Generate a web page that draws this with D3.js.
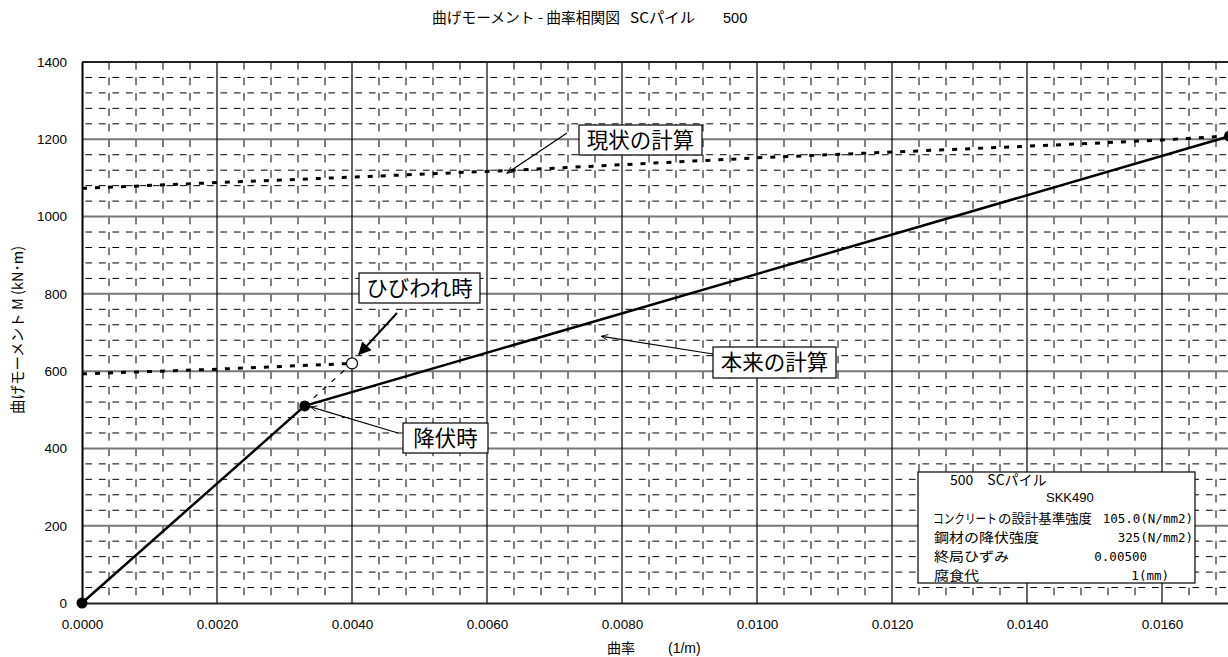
<!DOCTYPE html>
<html>
<head>
<meta charset="utf-8">
<script src="https://cdn.jsdelivr.net/npm/d3@7/dist/d3.min.js"></script>
<style>
  html, body { margin: 0; padding: 0; background: #fff; }
  svg { display: block; }
  text { font-family: "Liberation Sans", Arial, "Noto Sans CJK JP", sans-serif; fill: #000; }
  .jp { font-family: "Noto Sans CJK JP", "Liberation Sans", sans-serif; }
  .mono { font-family: "DejaVu Sans Mono", "Liberation Mono", monospace; }
</style>
</head>
<body>
<svg id="chart" width="1228" height="657"></svg>
<script>
// Axis ticks
const curvatureTicks = [0, 0.002, 0.004, 0.006, 0.008, 0.010, 0.012, 0.014, 0.016];
const momentTicks = [0, 200, 400, 600, 800, 1000, 1200, 1400];

// 本来の計算 (solid)
const designCurvature = [0, 0.0033, 0.0170];
const designMoment = [0, 510, 1208];

// 現状の計算 (dotted, upper branch)
const currentCurvature = [0, 0.002, 0.004, 0.0064, 0.010, 0.014, 0.016, 0.017];
const currentMoment = [1073, 1088, 1102, 1120, 1152, 1182, 1198, 1209];

// dotted branch up to cracking
const crackBranchCurvature = [0, 0.002, 0.0040];
const crackBranchMoment = [593, 605, 620];

// thin dashed link yield -> cracking
const linkCurvature = [0.0033, 0.0040];
const linkMoment = [510, 620];

// key points
const originPoint = [0, 0];
const yieldPoint = [0.0033, 510];
const crackPoint = [0.0040, 620];
const ultimatePoint = [0.0170, 1208];

// info box lines
const infoHead = "500　SCパイル";
const infoSteel = "SKK490";
const infoConcrete = "コンクリート";
const infoLabels = ["の設計基準強度", "鋼材の降伏強度", "終局ひずみ", "腐食代"];
const infoValues = ["105.0(N/mm2)", "325(N/mm2)", "0.00500", "1(mm)"];

const svg = d3.select("#chart");
const plotLeft = 82, plotRight = 1229.5, plotTop = 62, plotBottom = 603;

const x = d3.scaleLinear().domain([0, 0.017]).range([plotLeft, plotRight]);
const y = d3.scaleLinear().domain([0, 1400]).range([plotBottom, plotTop]);

// minor grid (dashed)
const minorX = d3.range(0, 0.0171, 0.0004).filter(v => Math.abs(v / 0.002 - Math.round(v / 0.002)) > 1e-6);
const minorY = d3.range(0, 1401, 40).filter(v => v % 200 !== 0);
const sx = x(0.0004) - x(0), sy = y(0) - y(40);

const grid = svg.append("g");
grid.selectAll(".hminor").data(minorY).join("line")
  .attr("x1", plotLeft).attr("x2", plotRight)
  .attr("y1", d => y(d)).attr("y2", d => y(d))
  .attr("stroke", "#000").attr("stroke-width", 1)
  .attr("stroke-dasharray", `${sx / 4} ${sx / 4}`)
  .attr("stroke-dashoffset", -sx / 8);
grid.selectAll(".vminor").data(minorX).join("line")
  .attr("x1", d => x(d)).attr("x2", d => x(d))
  .attr("y1", plotTop).attr("y2", plotBottom)
  .attr("stroke", "#000").attr("stroke-width", 1)
  .attr("stroke-dasharray", `${sy / 2} ${sy / 2}`);

// major grid
grid.selectAll(".hmajor").data(momentTicks.filter(d => d > 0 && d < 1400)).join("line")
  .attr("x1", plotLeft).attr("x2", plotRight)
  .attr("y1", d => y(d)).attr("y2", d => y(d))
  .attr("stroke", "#777").attr("stroke-width", 2);
grid.selectAll(".vmajor").data(curvatureTicks.filter(d => d > 0)).join("line")
  .attr("x1", d => x(d)).attr("x2", d => x(d))
  .attr("y1", plotTop).attr("y2", plotBottom)
  .attr("stroke", "#000").attr("stroke-width", 1.2);

// top frame
svg.append("line").attr("x1", plotLeft).attr("x2", plotRight).attr("y1", plotTop).attr("y2", plotTop)
  .attr("stroke", "#222").attr("stroke-width", 2);

// axes
const xAxis = d3.axisBottom(x).tickValues(curvatureTicks).tickFormat(d3.format(".4f")).tickSize(0).tickPadding(16);
const yAxis = d3.axisLeft(y).tickValues(momentTicks).tickFormat(d3.format("d")).tickSize(0).tickPadding(15);

const gx = svg.append("g").attr("transform", `translate(0,${plotBottom})`).call(xAxis);
gx.select(".domain").attr("stroke", "#222").attr("stroke-width", 2);
gx.selectAll("text").style("font-size", "13.5px").style("font-family", '"Liberation Sans", Arial, sans-serif');

const gy = svg.append("g").attr("transform", `translate(${plotLeft},0)`).call(yAxis);
gy.select(".domain").attr("stroke", "#000").attr("stroke-width", 2);
gy.selectAll("text").style("font-size", "13.5px").style("font-family", '"Liberation Sans", Arial, sans-serif');

// series
const line = d3.line().x(d => x(d[0])).y(d => y(d[1]));
const zipPts = (a, b) => a.map((v, i) => [v, b[i]]);

svg.append("path").datum(zipPts(currentCurvature, currentMoment))
  .attr("d", line).attr("fill", "none").attr("stroke", "#000")
  .attr("stroke-width", 3).attr("stroke-dasharray", "5 8");
svg.append("path").datum(zipPts(crackBranchCurvature, crackBranchMoment))
  .attr("d", line).attr("fill", "none").attr("stroke", "#000")
  .attr("stroke-width", 3).attr("stroke-dasharray", "5 8");
svg.append("path").datum(zipPts(linkCurvature, linkMoment))
  .attr("d", line).attr("fill", "none").attr("stroke", "#000")
  .attr("stroke-width", 1.2).attr("stroke-dasharray", "5 7");
svg.append("path").datum(zipPts(designCurvature, designMoment))
  .attr("d", line).attr("fill", "none").attr("stroke", "#000")
  .attr("stroke-width", 2.5);

// markers
svg.selectAll(".pt").data([originPoint, yieldPoint, ultimatePoint]).join("circle")
  .attr("cx", d => x(d[0])).attr("cy", d => y(d[1])).attr("r", 5.5).attr("fill", "#000");
svg.append("circle").attr("cx", x(crackPoint[0])).attr("cy", y(crackPoint[1])).attr("r", 5.5)
  .attr("fill", "#fff").attr("stroke", "#000").attr("stroke-width", 1.2);

// arrowheads
const defs = svg.append("defs");
defs.append("marker").attr("id", "arrowThin").attr("viewBox", "0 0 10 10")
  .attr("refX", 9).attr("refY", 5).attr("markerWidth", 9).attr("markerHeight", 7)
  .attr("markerUnits", "userSpaceOnUse").attr("orient", "auto")
  .append("path").attr("d", "M0,1 L10,5 L0,9").attr("fill", "none").attr("stroke", "#000").attr("stroke-width", 1.2);
defs.append("marker").attr("id", "arrowBold").attr("viewBox", "0 0 10 10")
  .attr("refX", 9).attr("refY", 5).attr("markerWidth", 16).attr("markerHeight", 13)
  .attr("markerUnits", "userSpaceOnUse").attr("orient", "auto")
  .append("path").attr("d", "M0,0 L10,5 L0,10 Z").attr("fill", "#000");

// callouts
function callout(label, bx, by, bw, bh, from, tip, marker, sw) {
  svg.append("line").attr("x1", from[0]).attr("y1", from[1]).attr("x2", tip[0]).attr("y2", tip[1])
    .attr("stroke", "#000").attr("stroke-width", sw).attr("marker-end", `url(#${marker})`);
  svg.append("rect").attr("x", bx).attr("y", by).attr("width", bw).attr("height", bh)
    .attr("fill", "#fff").attr("stroke", "#000").attr("stroke-width", 1.2);
  svg.append("text").attr("class", "jp").attr("x", bx + bw / 2).attr("y", by + bh / 2 + 7.5)
    .attr("text-anchor", "middle").style("font-size", "21.5px").text(label);
}
callout("現状の計算", 579, 125, 123, 30, [567, 133],
  [x(0.0063), y(1118) + 2], "arrowThin", 1.2);
callout("ひびわれ時", 359, 273, 121, 30, [397, 313],
  [x(crackPoint[0]) + 7, y(crackPoint[1]) - 9], "arrowBold", 2);
callout("降伏時", 403, 423, 85, 30, [398, 433],
  [x(yieldPoint[0]) + 6, y(yieldPoint[1]) + 1], "arrowThin", 1.2);
callout("本来の計算", 713, 347, 123, 31, [713, 354],
  [x(0.0077), y(690)], "arrowThin", 1.2);

// info box
const ib = svg.append("g");
ib.append("rect").attr("x", 918).attr("y", 472).attr("width", 277).attr("height", 111)
  .attr("fill", "#fff").attr("stroke", "#000").attr("stroke-width", 1.2);
ib.append("text").attr("class", "jp").attr("x", 950).attr("y", 485).style("font-size", "14px")
  .attr("xml:space", "preserve").text(infoHead);
ib.append("text").attr("x", 1046).attr("y", 502).style("font-size", "13px").text(infoSteel);
const rowY = [523, 542, 561, 580];
// condensed katakana: squeeze horizontally so the run spans 64px
ib.append("text").attr("class", "jp")
  .attr("transform", `translate(933,${rowY[0]}) scale(${64 / 78},1)`)
  .style("font-size", "13px").text(infoConcrete);
ib.append("text").attr("class", "jp").attr("x", 998).attr("y", rowY[0]).style("font-size", "13px")
  .attr("textLength", 94).attr("lengthAdjust", "spacingAndGlyphs").text(infoLabels[0]);
infoLabels.slice(1).forEach((t, i) => {
  ib.append("text").attr("class", "jp").attr("x", 934).attr("y", rowY[i + 1]).style("font-size", "13px")
    .attr("textLength", t.length * 15).attr("lengthAdjust", "spacingAndGlyphs").text(t);
});
const valueRight = [1193, 1193, 1147, 1169];
infoValues.forEach((t, i) => {
  ib.append("text").attr("class", "mono").attr("x", valueRight[i]).attr("y", rowY[i]).attr("text-anchor", "end")
    .style("font-size", "12.5px").text(t);
});

// titles
const title = svg.append("text").attr("class", "jp").attr("y", 23).style("font-size", "14.5px");
title.append("tspan").attr("x", 432).attr("textLength", 188).attr("lengthAdjust", "spacingAndGlyphs")
  .text("曲げモーメント - 曲率相関図");
title.append("tspan").attr("x", 630).attr("textLength", 65).attr("lengthAdjust", "spacingAndGlyphs").text("SCパイル");
title.append("tspan").attr("x", 723).style("font-family", '"Liberation Sans", Arial, sans-serif').text("500");
svg.append("text").attr("class", "jp").attr("x", 607).attr("y", 653).style("font-size", "14px").text("曲率");
svg.append("text").attr("x", 668).attr("y", 653).style("font-size", "14px").text("(1/m)");
svg.append("text").attr("class", "jp")
  .attr("transform", "translate(23,330) rotate(-90)").attr("text-anchor", "middle")
  .style("font-size", "14.5px").text("曲げモーメント M (kN･m)");
</script>
</body>
</html>
